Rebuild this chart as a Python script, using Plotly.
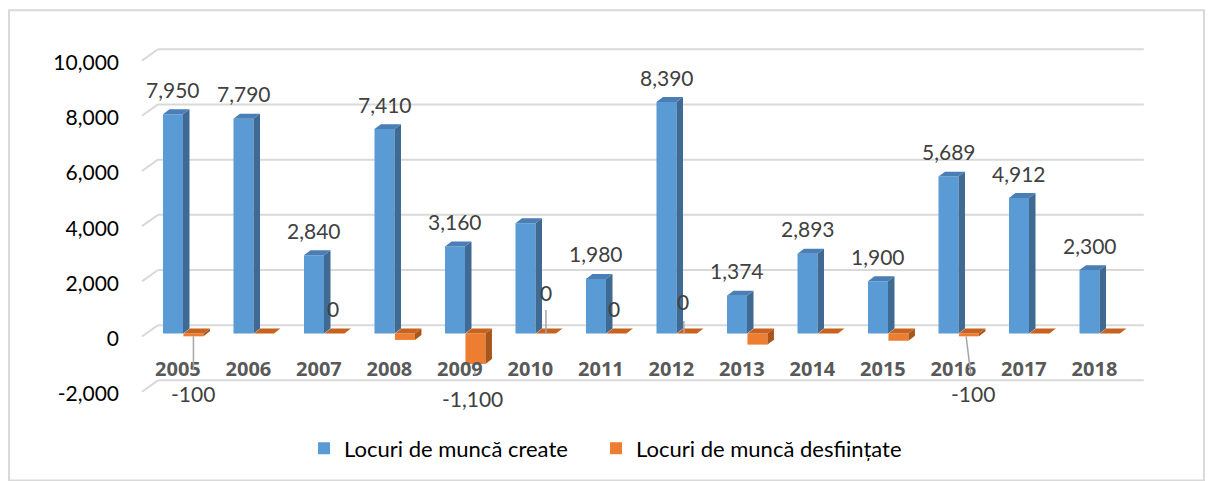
import plotly.graph_objects as go

# ---------------- data ----------------
years = ["2005", "2006", "2007", "2008", "2009", "2010", "2011",
         "2012", "2013", "2014", "2015", "2016", "2017", "2018"]
created = [7950, 7790, 2840, 7410, 3160, 4000, 1980, 8390, 1374, 2893, 1900, 5689, 4912, 2300]
destroyed = [-100, 0, 0, -230, -1100, 0, 0, 0, -400, 0, -260, -100, 0, 0]
created_label_years = ["2005", "2006", "2007", "2008", "2009", "2011", "2012",
                       "2013", "2014", "2015", "2016", "2017", "2018"]
destroyed_label_years = ["2005", "2007", "2009", "2010", "2011", "2012", "2016"]
y_ticks = [-2000, 0, 2000, 4000, 6000, 8000, 10000]
series_names = ["Locuri de muncă create", "Locuri de muncă desființate"]

# ---------------- style ----------------
FONT = "Lato"
BLUE_FRONT, BLUE_SIDE, BLUE_TOP = "#5B9BD5", "#3F6A94", "#4A7EB5"
ORG_FRONT, ORG_SIDE, ORG_TOP = "#ED7D31", "#A9561C", "#C8631F"
GRID = "#D9D9D9"
LABEL = "#404040"

BAR_W = 0.284      # bar width in category units
ORG_OFF = 0.29     # orange bar offset from blue bar centre
DX, DY = 0.092, 180  # 3-D depth of a bar (x units, y units)
WALL_FRONT_X, WALL_BACK_X, WALL_RIGHT_X = -0.44, -0.213, 13.77
WALL_FRONT_DY, WALL_BACK_DY = -107, 304

xs = list(range(len(years)))
fmt = lambda v: f"{v:,}".replace("\u2212", "-")

fig = go.Figure()

# back-wall gridlines (with the side-wall diagonal), drawn below the bars
shapes = []
for v in y_ticks:
    shapes.append(dict(type="line", xref="x", yref="y", layer="below",
                       x0=WALL_FRONT_X, y0=v + WALL_FRONT_DY, x1=WALL_BACK_X, y1=v + WALL_BACK_DY,
                       line=dict(color=GRID, width=2)))
    shapes.append(dict(type="line", xref="x", yref="y", layer="below",
                       x0=WALL_BACK_X, y0=v + WALL_BACK_DY, x1=WALL_RIGHT_X, y1=v + WALL_BACK_DY,
                       line=dict(color=GRID, width=2)))
# chart border
shapes.append(dict(type="rect", xref="paper", yref="paper",
                   x0=-0.1186, x1=1.0529, y0=-0.17, y1=1.0513,
                   line=dict(color="#D9D9D9", width=2), layer="below"))


def faces(centres, values):
    sx, sy, tx, ty = [], [], [], []
    for c, v in zip(centres, values):
        xl, xr = c - BAR_W / 2, c + BAR_W / 2
        top, bot = max(v, 0), min(v, 0)
        sx += [xr, xr + DX, xr + DX, xr, xr, None]
        sy += [bot, bot + DY, top + DY, top, bot, None]
        tx += [xl, xl + DX, xr + DX, xr, xl, None]
        ty += [top, top + DY, top + DY, top, top, None]
    return sx, sy, tx, ty


def add_series(centres, values, front, side, topc, name, legend):
    fig.add_trace(go.Bar(x=centres, y=values, width=BAR_W, name=name, legend=legend,
                         marker=dict(color=front, line=dict(width=0))))
    sx, sy, tx, ty = faces(centres, values)
    fig.add_trace(go.Scatter(x=sx, y=sy, mode="lines", fill="toself", fillcolor=side,
                             line=dict(width=0, color=side), hoverinfo="skip", showlegend=False))
    fig.add_trace(go.Scatter(x=tx, y=ty, mode="lines", fill="toself", fillcolor=topc,
                             line=dict(width=0, color=topc), hoverinfo="skip", showlegend=False))


blue_x = xs
org_x = [x + ORG_OFF for x in xs]
add_series(blue_x, created, BLUE_FRONT, BLUE_SIDE, BLUE_TOP, series_names[0], "legend")
add_series(org_x, destroyed, ORG_FRONT, ORG_SIDE, ORG_TOP, series_names[1], "legend2")

annotations = []
for x, yr, v in zip(blue_x, years, created):
    if yr in created_label_years:
        annotations.append(dict(x=x, y=v, xref="x", yref="y", text=fmt(v), showarrow=False,
                                yanchor="middle", yshift=25,
                                font=dict(family=FONT, size=21, color=LABEL)))

# orange label placement: (head x offset, ax, ay, arrow, standoff, startstandoff)
org_place = {
    "2005": (0.29, 0, 57, True, 0, 10),
    "2007": (0.29, -1.4, -25.5, False, 0, 0),
    "2009": (0.29, -2.5, 35, True, 7, 10),
    "2010": (0.29, 0, -41.5, True, 0, 4),
    "2011": (0.29, -2.5, -25.5, False, 0, 0),
    "2012": (0.25, -1, -32.5, True, 0, 6),
    "2016": (0.25, 7, 57, True, 0, 5),
}
for x, yr, v in zip(xs, years, destroyed):
    if yr in destroyed_label_years:
        hx, ax, ay, arrow, so, sso = org_place[yr]
        a = dict(x=x + hx, y=v, xref="x", yref="y", text=fmt(v),
                 font=dict(family=FONT, size=21, color=LABEL))
        if arrow:
            a.update(showarrow=True, arrowhead=0, arrowwidth=1.5, arrowcolor="#A6A6A6",
                     ax=ax, ay=ay, standoff=so, startstandoff=sso)
        else:
            a.update(showarrow=False, xshift=ax, yshift=-ay)
        annotations.append(a)

legend_style = dict(orientation="h", xanchor="left", y=-0.087, yanchor="middle",
                    itemwidth=30, bgcolor="rgba(0,0,0,0)",
                    font=dict(family=FONT, size=22, color="#000000"))

fig.update_layout(
    width=1208, height=481,
    margin=dict(l=130, r=58, t=30, b=61),
    paper_bgcolor="white", plot_bgcolor="white",
    font=dict(family=FONT, color="#000000"),
    barmode="overlay",
    showlegend=True,
    legend=dict(x=0.1706, **legend_style),
    legend2=dict(x=0.4569, **legend_style),
    annotations=annotations,
    shapes=shapes,
    xaxis=dict(range=[-0.6099, 13.858], showgrid=False, zeroline=False, showline=False,
               tickvals=[x + 0.07 for x in xs], ticktext=[f"<b>{y}</b>" for y in years],
               ticks="", anchor="free", position=0.156,
               tickfont=dict(family="Open Sans", size=20, color="#595959")),
    yaxis=dict(range=[-2951, 11002], showgrid=False, zeroline=False, showline=False,
               tickvals=y_ticks, ticktext=[fmt(v) for v in y_ticks], ticks="",
               ticklabelstandoff=10, ticklabelshift=5,
               tickfont=dict(family=FONT, size=21, color="#000000")),
)

fig.write_html("out.html", config={"displayModeBar": False},
               post_script="document.body.style.margin='0';")
